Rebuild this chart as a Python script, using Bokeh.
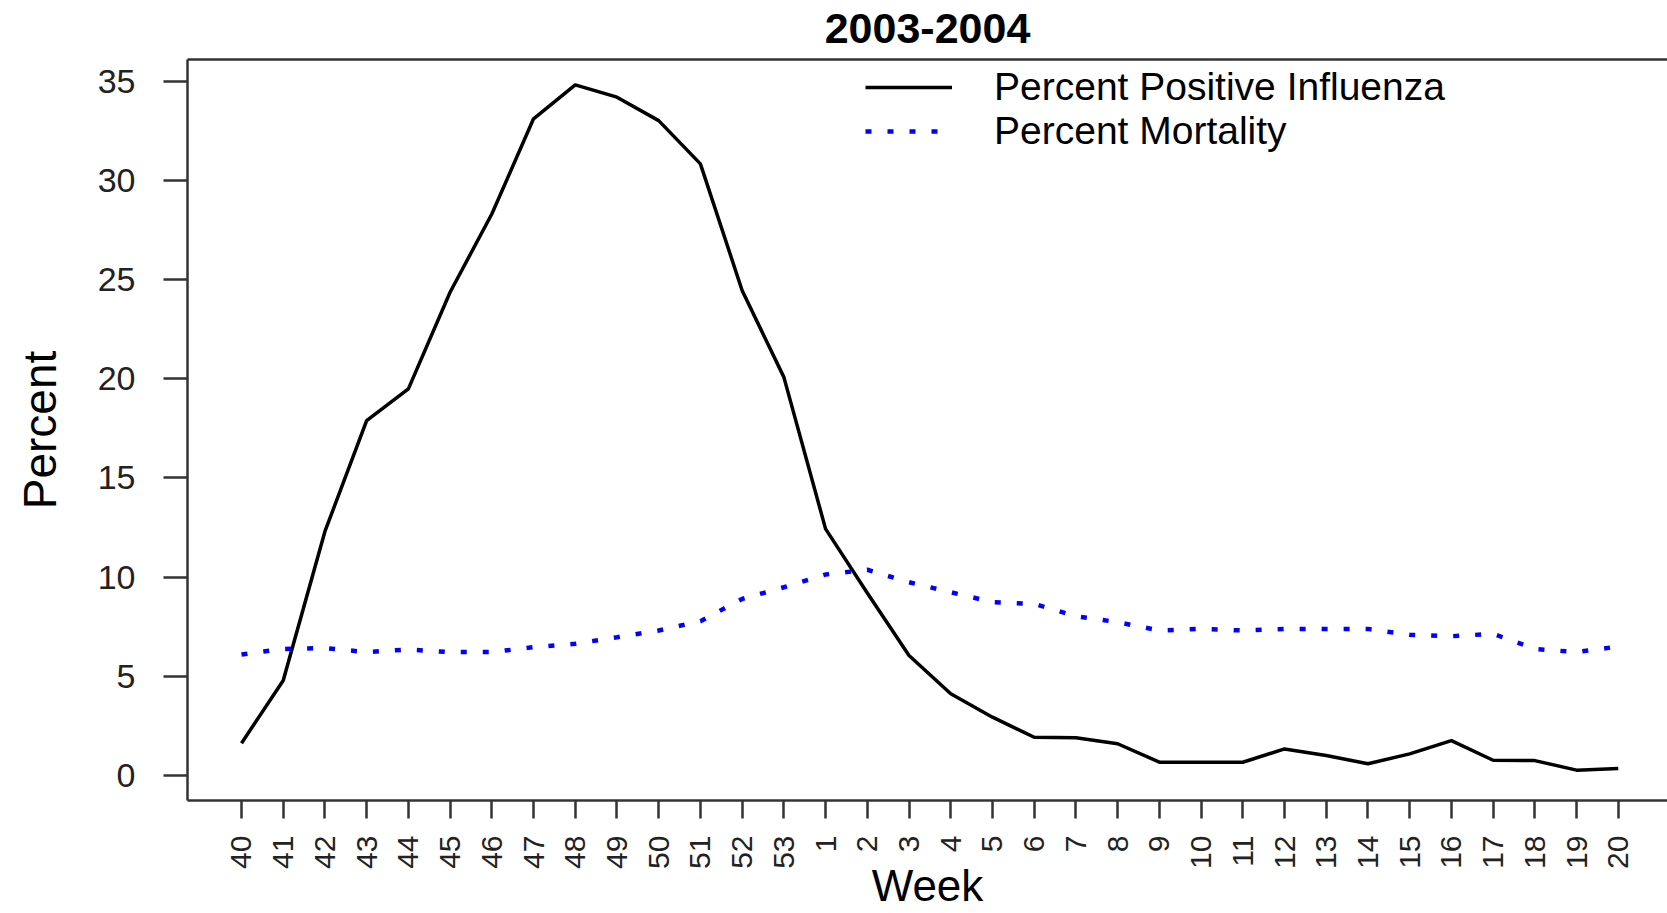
import math
from bokeh.plotting import figure
from bokeh.models import Range1d, FixedTicker, LinearAxis
from bokeh.embed import file_html
from bokeh.resources import INLINE

# ---- data ----
weeks = ["40", "41", "42", "43", "44", "45", "46", "47", "48", "49", "50", "51", "52", "53",
         "1", "2", "3", "4", "5", "6", "7", "8", "9", "10", "11", "12", "13", "14", "15",
         "16", "17", "18", "19", "20"]
pct_positive_flu = [1.63, 4.79, 12.3, 17.89, 19.49, 24.36, 28.3, 33.1, 34.81, 34.19, 33.01, 30.83,
                    24.45, 20.08, 12.43, 9.2, 6.05, 4.12, 2.94, 1.93, 1.90, 1.60, 0.67, 0.67, 0.67,
                    1.34, 1.01, 0.59, 1.09, 1.76, 0.77, 0.75, 0.27, 0.35]
pct_mortality = [6.10, 6.38, 6.42, 6.22, 6.35, 6.22, 6.22, 6.47, 6.64, 6.97, 7.31, 7.78, 8.90, 9.49,
                 10.13, 10.37, 9.74, 9.24, 8.74, 8.65, 8.03, 7.73, 7.31, 7.39, 7.31, 7.39, 7.39, 7.39,
                 7.09, 7.02, 7.14, 6.38, 6.22, 6.50]
y_ticks = [0, 5, 10, 15, 20, 25, 30, 35]
title_text = "2003-2004"

idx = list(range(len(weeks)))

FONT = "Liberation Sans"
AX = "#333333"

p = figure(width=1667, height=913, output_backend="svg", toolbar_location=None,
           x_range=Range1d(-1.294, 34.18), y_range=Range1d(-1.26, 36.09),
           min_border_left=187, min_border_right=0, min_border_top=59, min_border_bottom=113)

p.outline_line_color = None
p.grid.visible = False

p.line(idx, pct_positive_flu, line_color="black", line_width=3.5,
       legend_label="Percent Positive Influenza")
p.line(idx, pct_mortality, line_color="blue", line_width=4.5, line_dash="6 16",
       legend_label="Percent Mortality")

# x axis
xa = p.xaxis[0]
xa.ticker = FixedTicker(ticks=idx)
xa.major_label_overrides = {i: w for i, w in zip(idx, weeks)}
xa.major_label_orientation = math.pi / 2
xa.major_label_text_font = FONT
xa.major_label_text_font_size = "30px"
xa.major_label_text_color = "#222222"
xa.major_label_standoff = 17
xa.major_tick_out = 18
xa.major_tick_in = 0
xa.minor_tick_line_color = None
xa.axis_line_width = 2.5
xa.axis_line_color = AX
xa.major_tick_line_width = 2.5
xa.major_tick_line_color = AX
xa.axis_label = "Week"
xa.axis_label_text_font = FONT
xa.axis_label_text_font_size = "44px"
xa.axis_label_text_font_style = "normal"
xa.axis_label_text_color = "black"
xa.axis_label_standoff = -11

# y axis
ya = p.yaxis[0]
ya.ticker = FixedTicker(ticks=y_ticks)
ya.major_label_text_font = FONT
ya.major_label_text_font_size = "34px"
ya.major_label_text_color = "#222222"
ya.major_label_standoff = 28
ya.major_tick_out = 24
ya.major_tick_in = 0
ya.minor_tick_line_color = None
ya.axis_line_width = 2.5
ya.axis_line_color = AX
ya.major_tick_line_width = 2.5
ya.major_tick_line_color = AX
ya.axis_label = "Percent"
ya.axis_label_text_font = FONT
ya.axis_label_text_font_size = "46px"
ya.axis_label_text_font_style = "normal"
ya.axis_label_text_color = "black"
ya.axis_label_standoff = 29

# top border of the box, carrying the chart title
top = LinearAxis(ticker=FixedTicker(ticks=[]), major_tick_line_color=None,
                 major_tick_out=0, major_label_standoff=0,
                 minor_tick_line_color=None, axis_line_width=2.5, axis_line_color=AX,
                 major_label_text_font_size="0px",
                 axis_label=title_text, axis_label_text_font=FONT,
                 axis_label_text_font_size="43px", axis_label_text_font_style="bold",
                 axis_label_text_color="black", axis_label_standoff=17)
p.add_layout(top, "above")

# legend
lg = p.legend[0]
lg.location = (678, 647)
lg.label_text_font = FONT
lg.label_text_font_size = "39px"
lg.label_text_color = "black"
lg.glyph_width = 87
lg.glyph_height = 40
lg.label_height = 40
lg.label_standoff = 42
lg.spacing = -2
lg.padding = 0
lg.margin = 0
lg.border_line_color = None
lg.background_fill_alpha = 0

open("out.html", "w").write(file_html(p, INLINE))
